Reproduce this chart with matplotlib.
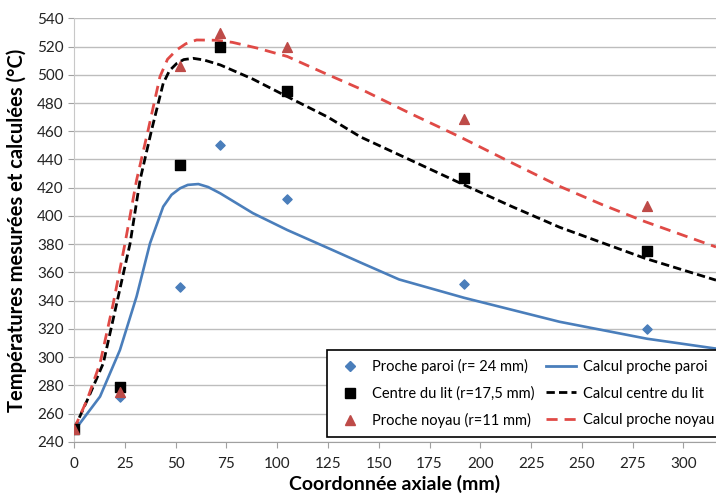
import matplotlib.pyplot as plt
from matplotlib.lines import Line2D

plt.rcParams['font.family'] = ['Lato', 'DejaVu Sans']

# measured points
x_mes = [0, 22.5, 52, 72, 105, 192, 282]
paroi_mes = [249, 272, 350, 450, 412, 352, 320]
centre_mes = [249, 279, 436, 520, 488.5, 427, 375.5]
noyau_mes = [249, 275.5, 506, 529.5, 520, 469, 407]

# computed curves
x_paroi = [0, 1.3, 6, 12.8, 22.6, 30.8, 37.4, 43.9, 48, 52.2, 56, 61.2, 66, 72, 88, 105, 127, 141, 160, 192, 239, 282, 316]
y_paroi = [249, 250, 259, 272, 305, 343, 380.6, 406.6, 415, 419.6, 422, 422.6, 420.5, 416, 402, 390, 376, 367, 355, 342, 325, 313, 306]

x_centre = [0, 1.3, 7, 14.4, 21, 27.6, 32.5, 38.2, 43.9, 47, 50.5, 54, 58.6, 64, 72, 88, 105, 125, 141, 165, 192, 215, 239, 260, 281, 316]
y_centre = [249, 253, 271, 295.6, 338, 380.6, 425.5, 461, 494, 503, 508, 510.8, 511.7, 510.5, 507, 497, 484.5, 470, 456, 440, 422, 407, 392, 381, 370, 354.5]

x_noyau = [0, 6.5, 12.8, 19.3, 25.1, 30.8, 36.5, 42.3, 46, 50.5, 55, 60.3, 70, 78, 90, 105, 122, 141, 165, 190, 215, 239, 260, 281, 316]
y_noyau = [249, 270, 295.6, 338, 380.6, 425.5, 461, 498.7, 511, 517.6, 522, 524.7, 524.5, 523, 519, 513, 502, 490, 473, 456, 438, 421, 408, 396, 378]

blue = '#4a7ebb'
red = '#be4b48'
red_line = '#e04a46'

fig = plt.figure(figsize=(7.16, 4.94), dpi=100)
ax = fig.add_axes([0.1034, 0.1058, 0.8966, 0.857])

ax.plot(x_paroi, y_paroi, color=blue, lw=1.9, zorder=2)
ax.plot(x_centre, y_centre, color='black', lw=2, dashes=(3, 1.5), zorder=2)
ax.plot(x_noyau, y_noyau, color=red_line, lw=2, dashes=(4, 2.5), zorder=2)

ax.scatter(x_mes, paroi_mes, marker='D', s=22, color=blue, zorder=3)
ax.scatter(x_mes, centre_mes, marker='s', s=55, color='black', zorder=3)
ax.scatter(x_mes, noyau_mes, marker='^', s=50, color=red, zorder=3)

ax.set_xlim(0, 316)
ax.set_ylim(240, 540)
ax.set_xticks(range(0, 301, 25))
ax.set_yticks(range(240, 541, 20))
ax.grid(axis='y', color='#bdbdbd', lw=1)
ax.set_axisbelow(True)
for s in ['top', 'right']:
    ax.spines[s].set_visible(False)
ax.spines['left'].set_color('#c8c8c8')
ax.spines['bottom'].set_color('#a0a0a0')
ax.tick_params(axis='both', labelsize=11, colors='#a0a0a0', labelcolor='#222222', length=4)
ax.tick_params(axis='x', pad=7)

ax.set_xlabel('Coordonnée axiale (mm)', fontsize=14, fontweight='bold', labelpad=3)
ax.set_ylabel('Températures mesurées et calculées (°C)', fontsize=14.5, fontweight='bold', labelpad=7)

handles = [
    Line2D([], [], marker='D', ls='none', color=blue, markersize=5),
    Line2D([], [], marker='s', ls='none', color='black', markersize=7),
    Line2D([], [], marker='^', ls='none', color=red, markersize=7),
    Line2D([], [], color=blue, lw=2),
    Line2D([], [], color='black', lw=2, dashes=(3, 1.5)),
    Line2D([], [], color=red_line, lw=2, dashes=(4, 2.5)),
]
labels = ['Proche paroi (r= 24 mm)', 'Centre du lit (r=17,5 mm)', 'Proche noyau (r=11 mm)',
          'Calcul proche paroi', 'Calcul centre du lit', 'Calcul proche noyau']
leg = ax.legend(handles, labels, ncol=2, loc='lower left', bbox_to_anchor=(0.394, 0.011),
                borderaxespad=0, fontsize=10.5, frameon=True, fancybox=False, edgecolor='black',
                framealpha=1, handlelength=2.0, columnspacing=0.8, handletextpad=0.5,
                labelspacing=0.85, borderpad=0.6)
leg.get_frame().set_linewidth(1.2)

fig.savefig('out.png', dpi=100)
